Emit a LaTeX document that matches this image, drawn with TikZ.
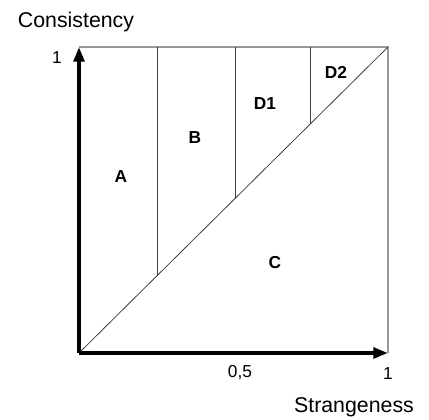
\documentclass[tikz,border=0pt]{standalone}
\usepackage{fontspec}
\setmainfont{Liberation Sans}
\usetikzlibrary{arrows.meta}
\begin{document}
\begin{tikzpicture}[x=0.75pt,y=-0.75pt,
  axis/.style={line width=2.7pt,-{Triangle[length=11pt,width=8pt]}},
  frame/.style={draw=black!40,line width=0.8pt},
  divider/.style={draw=black!75,line width=0.6pt},
  region/.style={font=\fontsize{13pt}{15pt}\selectfont\bfseries},
  num/.style={font=\fontsize{13pt}{15pt}\selectfont},
  axlabel/.style={font=\fontsize{16pt}{18pt}\selectfont}]
\useasboundingbox (0,0) rectangle (429,419);
\coordinate (O) at (79,353);
\coordinate (TL) at (79,47);
\coordinate (TR) at (388,47);
\coordinate (BR) at (388,353);
\coordinate (v1t) at (157,47);
\coordinate (v1b) at (157,275.8);
\coordinate (v2t) at (235,47);
\coordinate (v2b) at (235,198.5);
\coordinate (v3t) at (310,47);
\coordinate (v3b) at (310,124.2);
% frame
\draw[frame] (TL) -- (TR) -- (BR);
% diagonal and dividers
\draw[divider] (O) -- (TR);
\draw[divider] (v1t) -- (v1b);
\draw[divider] (v2t) -- (v2b);
\draw[divider] (v3t) -- (v3b);
% axes
\draw[axis] (O) -- (TL);
\draw[axis] (O) -- (BR);
% labels
\node[axlabel] (cons) at (76,22) {Consistency};
\node[axlabel] (str) at (354,407) {Strangeness};
\node[num] (y1) at (57,58) {1};
\node[num] (xh) at (240,373) {0,5};
\node[num] (x1) at (388,374) {1};
\node[region] (A) at (121,177) {A};
\node[region] (B) at (195,138) {B};
\node[region] (C) at (275,263) {C};
\node[region] (D1) at (265,104) {D1};
\node[region] (D2) at (336,72) {D2};
\end{tikzpicture}
\end{document}
